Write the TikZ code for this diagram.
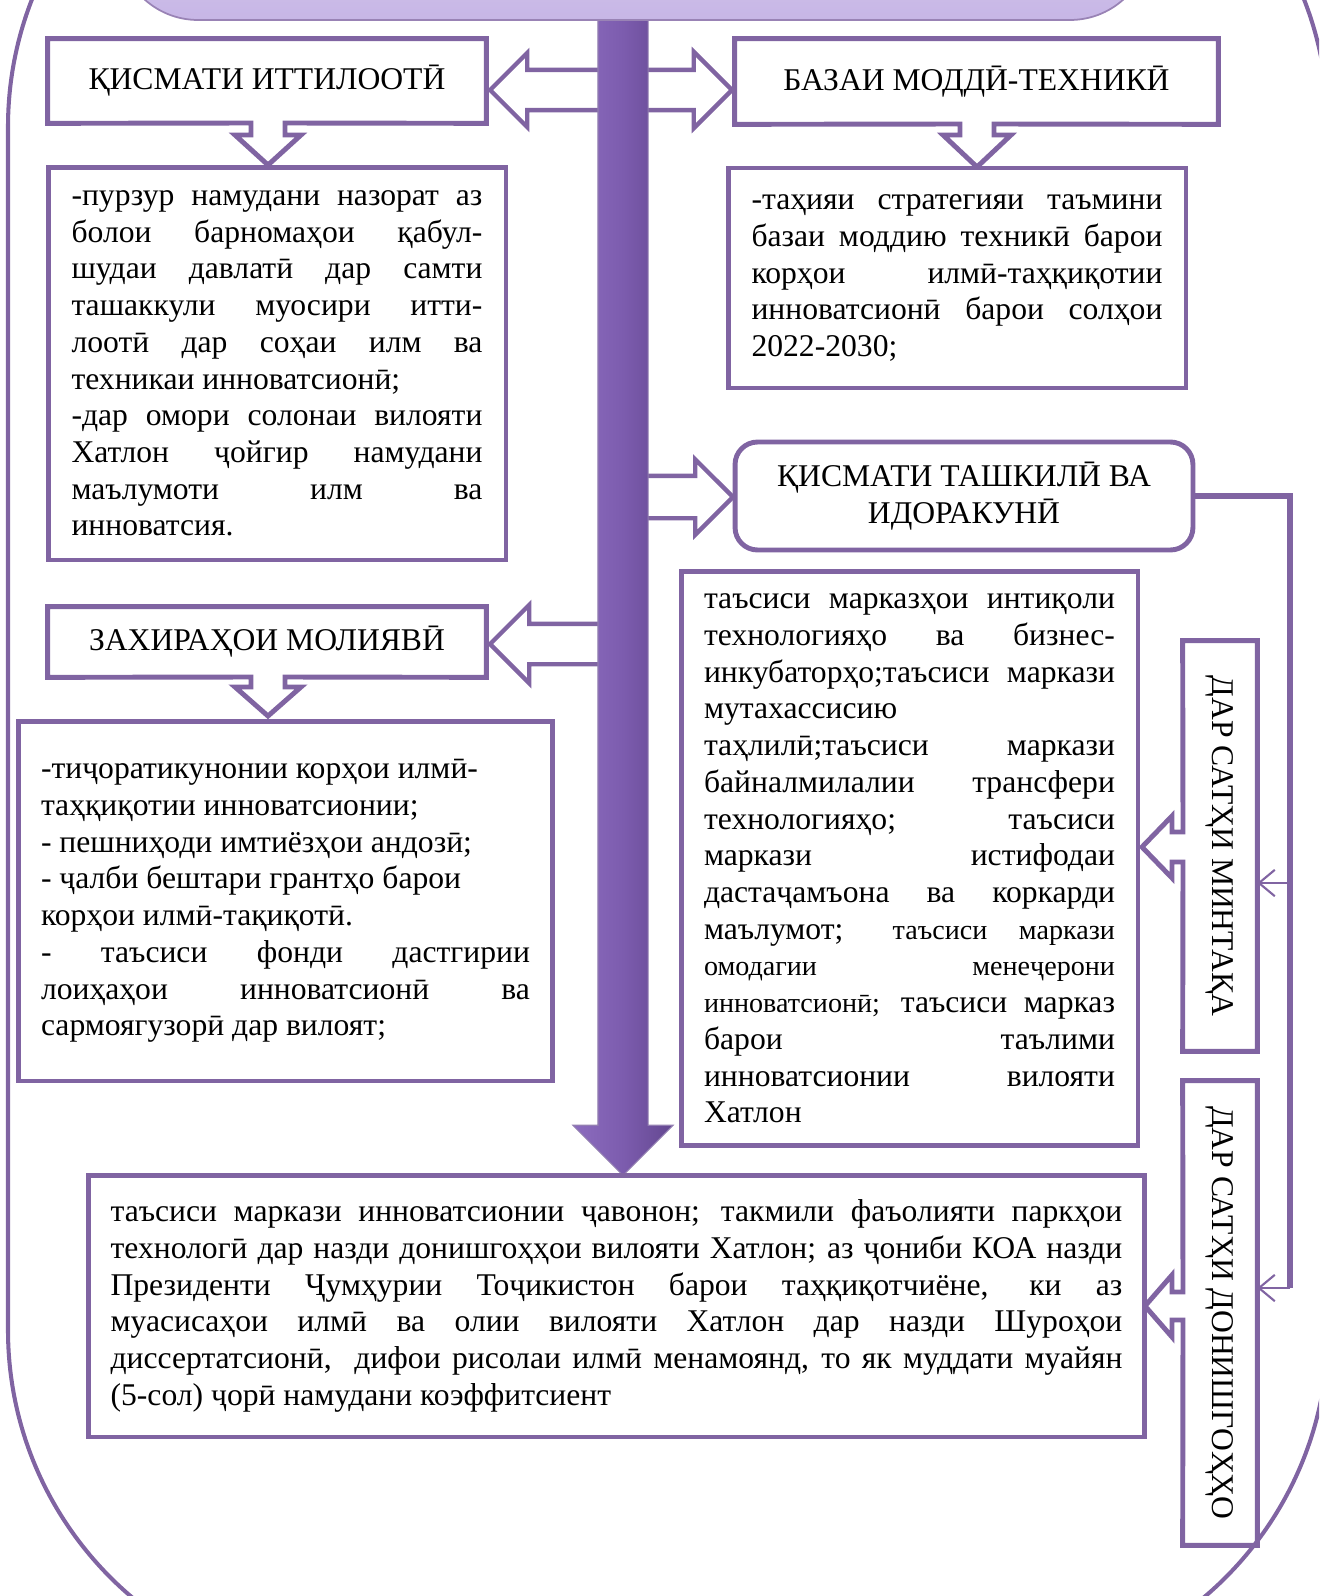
\documentclass[tikz,border=0pt]{standalone}
\usepackage{fontspec}
\setmainfont{Liberation Serif}
\usetikzlibrary{shapes.arrows,arrows.meta,shadows}
\definecolor{lilac}{HTML}{8064A2}
\definecolor{bannertop}{HTML}{DAD0F0}
\definecolor{bannerbot}{HTML}{C7B6E6}
\definecolor{barlight}{HTML}{8C6CBE}
\definecolor{barmid}{HTML}{7C5CAE}
\definecolor{bardark}{HTML}{634790}
\tolerance=10000
\hbadness=10000
\hyphenpenalty=10000
\exhyphenpenalty=10000
\newcommand{\smalltxt}{\fontsize{16}{20.9}\selectfont}

\begin{document}
\begin{tikzpicture}[x=0.02cm, y=-0.02cm,
    every node/.style={font=\fontsize{18}{20.9}\selectfont},
    frame/.style={draw=lilac, line width=2.3pt, rounded corners=7cm},
    banner/.style={draw=lilac!80, line width=1pt, top color=bannertop, bottom color=bannerbot, rounded corners=1.6cm},
    bigarrow/.style={single arrow, anchor=tip, inner xsep=0pt, draw=bardark!70, line width=0.6pt,
      left color=barlight, right color=bardark, middle color=barmid},
    blk/.style={single arrow, anchor=tip, inner xsep=0pt, draw=lilac, line width=2.5pt, fill=white},
    txtbox/.style={draw=lilac, line width=2.8pt, fill=white, inner sep=0pt, align=justify},
    ttl/.style={inner sep=0pt, align=center},
    calloutline/.style={draw=lilac, line width=2.8pt},
    link/.style={draw=lilac, line width=3.4pt},
    branch/.style={draw=lilac, line width=1.2pt, -{Straight Barb[length=9pt,width=15pt]}}
  ]
  \useasboundingbox (0,0) rectangle (1319,1596);
  \clip (0,0) rectangle (1319,1596);

  % outer frame
  \draw[frame] (8,-223) rectangle (1328,1680);

  % arrows out of the bar
  \node[blk, rotate=180, inner ysep=0.36cm, minimum height=2.44cm, minimum width=1.4cm, single arrow head extend=0.34cm] (aA) at (487,90) {};
  \node[blk, inner ysep=0.36cm, minimum height=2.0cm, minimum width=1.44cm, single arrow head extend=0.36cm] (aB) at (735,90) {};
  \node[blk, inner ysep=0.38cm, minimum height=2.02cm, minimum width=1.42cm, single arrow head extend=0.33cm] (aC) at (736,497) {};
  \node[blk, rotate=180, inner ysep=0.36cm, minimum height=2.44cm, minimum width=1.5cm, single arrow head extend=0.38cm] (aD) at (487,644) {};

  % the bar and the banner
  \node[bigarrow, rotate=-90, inner ysep=0.49cm, minimum height=23.52cm, minimum width=1.98cm, single arrow head extend=0.5cm] (bar) at (623,1176) {};
  \node[banner, minimum width=20.64cm, minimum height=2.8cm] (head) at (634,-50) {};

  % left column
  \node[ttl, minimum width=8.76cm, minimum height=1.68cm] (tA) at (267,81) {ҚИСМАТИ ИТТИЛООТӢ};
  \draw[calloutline] (tA.south west) -- (tA.north west) -- (tA.north east) -- (tA.south east)
    -- (285,123) -- (285,135) -- (301,135) -- (268,165) -- (235,135) -- (251,135) -- (251,123) -- cycle;
  \node[txtbox, minimum width=9.16cm, minimum height=7.86cm, text width=8.22cm] (pA) at (277,363.5) {%
    -пурзур намудани назорат аз\linebreak
    болои барномаҳои қабул-\linebreak
    шудаи давлатӣ дар самти\linebreak
    ташаккули муосири итти-\linebreak
    лоотӣ дар соҳаи илм ва\linebreak
    техникаи инноватсионӣ;\par
    -дар омори солонаи вилояти\linebreak
    Хатлон ҷойгир намудани\linebreak
    маълумоти илм ва\linebreak
    инноватсия.};

  \node[ttl, minimum width=8.76cm, minimum height=1.4cm] (tD) at (267,642) {ЗАХИРАҲОИ МОЛИЯВӢ};
  \draw[calloutline] (tD.south west) -- (tD.north west) -- (tD.north east) -- (tD.south east)
    -- (285,677) -- (285,687) -- (301,687) -- (268,716) -- (235,687) -- (251,687) -- (251,677) -- cycle;
  \node[txtbox, minimum width=10.7cm, minimum height=7.2cm, text width=9.78cm] (pD) at (285.5,901) {%
    -тиҷоратикунонии корҳои илмӣ-\newline
    таҳқиқотии инноватсионии;\newline
    - пешниҳоди имтиёзҳои андозӣ;\newline
    - ҷалби бештари грантҳо барои\newline
    корҳои илмӣ-тақиқотӣ.\newline
    - таъсиси фонди дастгирии\linebreak
    лоиҳаҳои инноватсионӣ ва\linebreak
    сармоягузорӣ дар вилоят;};

  % right column
  \node[ttl, minimum width=9.66cm, minimum height=1.7cm] (tB) at (976.5,81.5) {БАЗАИ МОДДӢ-ТЕХНИКӢ};
  \draw[calloutline] (tB.south west) -- (tB.north west) -- (tB.north east) -- (tB.south east)
    -- (994,124) -- (994,135) -- (1011,135) -- (977,167) -- (943,135) -- (960,135) -- (960,124) -- cycle;
  \node[txtbox, minimum width=9.16cm, minimum height=4.4cm, text width=8.22cm] (pB) at (957,278) {%
    -таҳияи стратегияи таъмини\linebreak
    базаи моддию техникӣ барои\linebreak
    корҳои илмӣ-таҳқиқотии\linebreak
    инноватсионӣ барои солҳои\linebreak
    2022-2030;};

  \node[ttl, draw=lilac, line width=2.8pt, rounded corners=0.45cm, minimum width=9.16cm, minimum height=2.16cm] (tC) at (964,496) {ҚИСМАТИ ТАШКИЛӢ ВА\\ИДОРАКУНӢ};
  \node[txtbox, minimum width=9.14cm, minimum height=11.5cm, text width=8.22cm] (pC) at (909.5,858.5) {%
    таъсиси марказҳои интиқоли\linebreak
    технологияҳо ва бизнес-\linebreak
    инкубаторҳо;таъсиси маркази\linebreak
    мутахассисию\newline
    таҳлилӣ;таъсиси маркази\linebreak
    байналмилалии трансфери\linebreak
    технологияҳо; таъсиси\linebreak
    маркази истифодаи\linebreak
    дастаҷамъона ва коркарди\linebreak
    маълумот; {\smalltxt таъсиси маркази}\linebreak
    {\smalltxt омодагии менеҷерони}\linebreak
    {\smalltxt инноватсионӣ;} таъсиси марказ\linebreak
    барои таълими\linebreak
    инноватсионии вилояти\linebreak
    Хатлон};

  % levels
  \node[ttl, minimum width=1.48cm, minimum height=8.2cm] (vM) at (1220,846) {\rotatebox{-90}{ДАР САТҲИ МИНТАҚА}};
  \draw[calloutline] (vM.north west) -- (vM.north east) -- (vM.south east) -- (vM.south west)
    -- (1183,862) -- (1172,862) -- (1172,878) -- (1142,847) -- (1172,816) -- (1172,832) -- (1183,832) -- cycle;
  \node[ttl, minimum width=1.48cm, minimum height=9.28cm] (vU) at (1220,1313) {\rotatebox{-90}{ДАР САТҲИ ДОНИШГОҲҲО}};
  \draw[calloutline] (vU.north west) -- (vU.north east) -- (vU.south east) -- (vU.south west)
    -- (1183,1320) -- (1172,1320) -- (1172,1337) -- (1145,1306) -- (1172,1275) -- (1172,1292) -- (1183,1292) -- cycle;

  \coordinate (jT) at (1290,496);
  \coordinate (jM) at (1290,883);
  \coordinate (jU) at (1290,1288);
  \draw[link] (tC.east) -- (jT) -- (jU);
  \draw[branch] (jM) -- (vM.east |- jM);
  \draw[branch] (jU) -- (vU.east |- jU);

  % bottom box
  \node[txtbox, minimum width=21.14cm, minimum height=5.24cm, text width=20.24cm,
    drop shadow={shadow xshift=0.05cm, shadow yshift=-0.05cm, opacity=0.35}] (pE) at (616.5,1306) {%
    таъсиси маркази инноватсионии ҷавонон; такмили фаъолияти паркҳои\linebreak
    технологӣ дар назди донишгоҳҳои вилояти Хатлон; аз ҷониби КОА назди\linebreak
    Президенти Ҷумҳурии Тоҷикистон барои таҳқиқотчиёне, ки аз\linebreak
    муасисаҳои илмӣ ва олии вилояти Хатлон дар назди Шуроҳои\linebreak
    диссертатсионӣ,\ \ дифои рисолаи илмӣ менамоянд, то як муддати муайян\linebreak
    (5-сол) ҷорӣ намудани коэффитсиент};
\end{tikzpicture}
\end{document}
